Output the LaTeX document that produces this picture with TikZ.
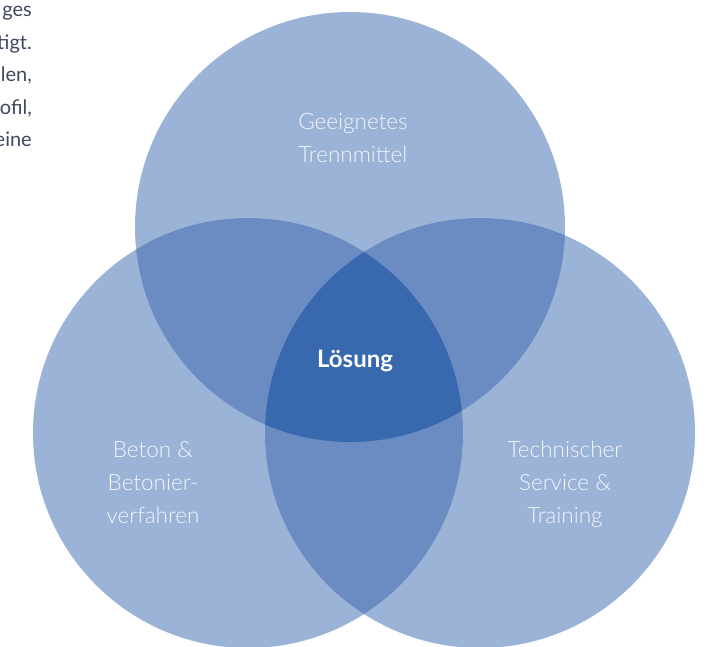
\documentclass[tikz,border=0pt]{standalone}
\usepackage{fontspec}
\setmainfont{Lato}
\newfontfamily\lightfont{Lato Light}
\definecolor{cone}{HTML}{9CB3D8}
\definecolor{ctwo}{HTML}{6A8CC2}
\definecolor{cthree}{HTML}{3869AF}
\definecolor{ctext}{HTML}{3E4A5C}
\definecolor{clabel}{HTML}{F2F5FA}
\begin{document}
\begin{tikzpicture}[x=1pt,y=-1pt,
  lbl/.style={text=clabel,font=\lightfont\fontsize{22.5}{33}\selectfont,align=center,anchor=base,inner sep=0pt},
  side/.style={text=ctext,font=\fontsize{20}{24}\selectfont,anchor=base east,inner sep=0pt}]
\useasboundingbox (0,0) rectangle (710,646);
\def\rr{215}
\coordinate (T) at (350,227);
\coordinate (L) at (248,433);
\coordinate (R) at (480,433);
\fill[cone] (T) circle (\rr);
\fill[cone] (L) circle (\rr);
\fill[cone] (R) circle (\rr);
\begin{scope}
  \clip (T) circle (\rr);
  \fill[ctwo] (L) circle (\rr);
  \fill[ctwo] (R) circle (\rr);
\end{scope}
\begin{scope}
  \clip (L) circle (\rr);
  \fill[ctwo] (R) circle (\rr);
\end{scope}
\begin{scope}
  \clip (T) circle (\rr);
  \clip (L) circle (\rr);
  \fill[cthree] (R) circle (\rr);
\end{scope}
\node[lbl] (g1) at (353,129) {Geeignetes};
\node[lbl] (g2) at (353,162) {Trennmittel};
\node[lbl] (b1) at (153,457) {Beton \&};
\node[lbl] (b2) at (153,490) {Betonier-};
\node[lbl] (b3) at (153,523) {verfahren};
\node[lbl] (t1) at (565,457) {Technischer};
\node[lbl] (t2) at (565,490) {Service \&};
\node[lbl] (t3) at (565,523) {Training};
\node[text=white,font=\bfseries\fontsize{24}{28}\selectfont,anchor=base,inner sep=0pt] (ls) at (355,367) {Lösung};
\node[side] (s1) at (32,16) {ges};
\node[side] (s2) at (32,49) {tigt.};
\node[side] (s3) at (32,81) {len,};
\node[side] (s4) at (32,114) {ofil,};
\node[side] (s5) at (32,146) {eine};
\end{tikzpicture}
\end{document}
